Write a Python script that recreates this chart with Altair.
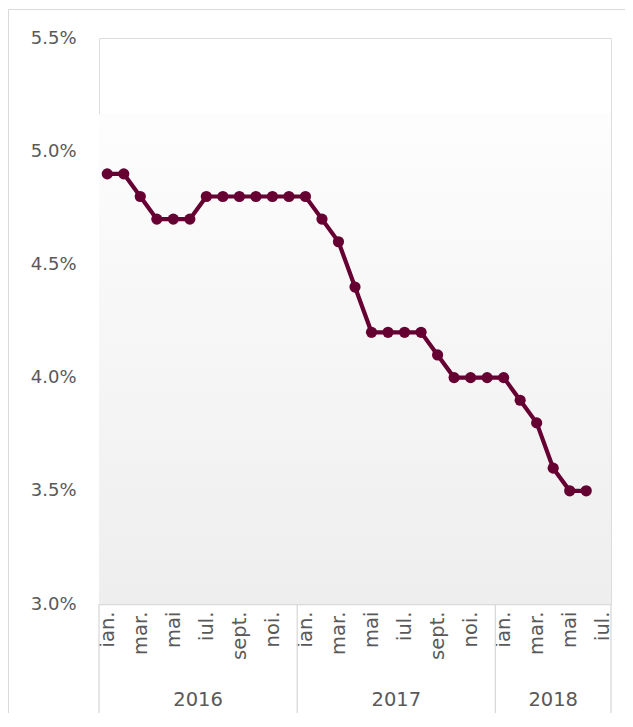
import altair as alt
import pandas as pd

# ---- data ----
months = ["ian.", "feb.", "mar.", "apr.", "mai", "iun.", "iul.", "aug.", "sept.", "oct.", "noi.", "dec.",
          "ian.", "feb.", "mar.", "apr.", "mai", "iun.", "iul.", "aug.", "sept.", "oct.", "noi.", "dec.",
          "ian.", "feb.", "mar.", "apr.", "mai", "iun.", "iul."]
years = [2016] * 12 + [2017] * 12 + [2018] * 7
rate = [4.9, 4.9, 4.8, 4.7, 4.7, 4.7, 4.8, 4.8, 4.8, 4.8, 4.8, 4.8,
        4.8, 4.7, 4.6, 4.4, 4.2, 4.2, 4.2, 4.2, 4.1, 4.0, 4.0, 4.0,
        4.0, 3.9, 3.8, 3.6, 3.5, 3.5, None]
y_ticks = [3.0, 3.5, 4.0, 4.5, 5.0, 5.5]

W, H = 512, 566
PL, PT, PR, PB = 91, 30, 14, 109
LINE = "#660033"
TXT = "#595959"
GRID = "#d9d9d9"
FONT = "DejaVu Sans"
FS = 18
FSX = 19.5

n = len(months)
df = pd.DataFrame({"month": months, "year": years, "rate": rate})
df["pos"] = [i + 0.5 for i in range(n)]
pts = df.dropna(subset=["rate"])

# year groups
yr_list = sorted(set(years))
starts = [years.index(y) for y in yr_list]
ends = starts[1:] + [n]
yr_df = pd.DataFrame({"year": [str(y) for y in yr_list],
                      "center": [(s + e) / 2 for s, e in zip(starts, ends)]})
sep_df = pd.DataFrame({"b": starts + [n]})

xscale = alt.Scale(domain=[0, n], nice=False, zero=False)
yscale = alt.Scale(domain=[y_ticks[0], y_ticks[-1]], nice=False, zero=False)

label_arr = "[" + ",".join("'" + m + "'" for m in months) + "]"
xaxis = alt.Axis(values=[i + 0.5 for i in range(0, n, 2)],
                 labelExpr=label_arr + "[floor(datum.value)]",
                 labelAngle=-90, labelFont=FONT, labelFontSize=FSX, labelColor=TXT,
                 labelPadding=7, ticks=False, tickSize=0, grid=False,
                 domain=True, domainColor=GRID, domainWidth=1.3,
                 labelOverlap=False, labelBound=False, labelFlush=False, title=None)
yaxis = alt.Axis(values=y_ticks, labelExpr="format(datum.value, '.1f') + '%'",
                 labelFont=FONT, labelFontSize=FS, labelColor=TXT, labelPadding=23,
                 ticks=False, tickSize=0, grid=False, domain=False, title=None)

one = pd.DataFrame({"a": [0]})

bg = alt.Chart(one).mark_rect(
    strokeWidth=0,
    fill=alt.Gradient(gradient="linear", x1=0.5, x2=0.5, y1=0.001, y2=1,
                      stops=[alt.GradientStop(offset=0, color="#fdfdfd"),
                             alt.GradientStop(offset=1, color="#eeeeee")])
).encode(x=alt.value(0), x2=alt.value(W), y=alt.value(76), y2=alt.value(H))

border_top = alt.Chart(one).mark_rule(color=GRID, strokeWidth=1).encode(
    x=alt.value(-PL + 0.5), x2=alt.value(W + PR), y=alt.value(-PT + 1.5))
border_left = alt.Chart(one).mark_rule(color=GRID, strokeWidth=1).encode(
    x=alt.value(-PL + 0.5), y=alt.value(-PT + 1.5), y2=alt.value(H + PB))

line = alt.Chart(df).mark_line(color=LINE, strokeWidth=4.2).encode(
    x=alt.X("pos:Q", scale=xscale, axis=xaxis),
    y=alt.Y("rate:Q", scale=yscale, axis=yaxis),
)
dots = alt.Chart(pts).mark_circle(color=LINE, size=125, opacity=1).encode(
    x=alt.X("pos:Q", scale=xscale, axis=xaxis),
    y=alt.Y("rate:Q", scale=yscale, axis=yaxis),
)
seps = alt.Chart(sep_df).mark_rule(color=GRID, strokeWidth=1.3).encode(
    x=alt.X("b:Q", scale=xscale, axis=xaxis),
    y=alt.value(H), y2=alt.value(H + 130),
)
yr_text = alt.Chart(yr_df).mark_text(font=FONT, fontSize=FSX, color=TXT, baseline="middle").encode(
    x=alt.X("center:Q", scale=xscale, axis=xaxis),
    y=alt.value(H + 96),
    text="year:N",
)

chart = alt.layer(bg, border_top, border_left, seps, line, dots, yr_text).properties(
    width=W, height=H,
    autosize=alt.AutoSizeParams(type="none"),
    padding={"left": PL, "top": PT, "right": PR, "bottom": PB},
).configure_view(stroke="transparent", strokeWidth=0).configure(background="white")

chart.save("out.html", embed_options={"renderer": "svg", "actions": False})
